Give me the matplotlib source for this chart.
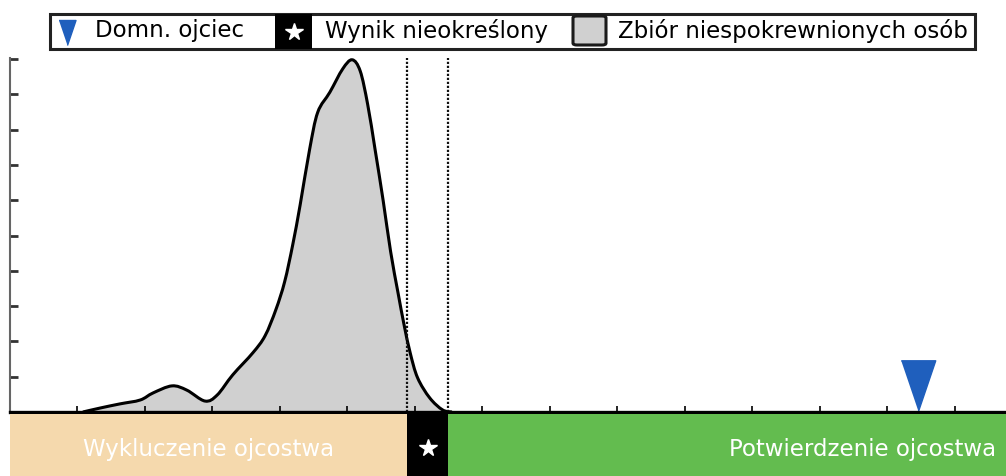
import matplotlib
matplotlib.use("Agg")
import matplotlib.pyplot as plt
from matplotlib.patches import Rectangle, FancyBboxPatch, PathPatch
from matplotlib.lines import Line2D
from matplotlib.path import Path
import numpy as np

# density of unrelated people
score = [1.08, 1.33, 1.63, 1.93, 2.12, 2.40, 2.62, 2.89, 3.07, 3.30, 3.60, 3.78,
         3.94, 4.07, 4.19, 4.30, 4.44, 4.56, 4.74, 4.93, 5.07, 5.19, 5.30, 5.41,
         5.53, 5.64, 5.75, 5.84, 5.93, 6.04, 6.22, 6.41, 6.55]
density = [0.0, 0.11, 0.23, 0.34, 0.54, 0.74, 0.62, 0.31, 0.48, 1.05, 1.68, 2.16,
           2.90, 3.69, 4.74, 5.87, 7.44, 8.49, 9.06, 9.72, 9.98, 9.66, 8.72, 7.44,
           5.99, 4.55, 3.38, 2.47, 1.68, 0.97, 0.40, 0.06, 0.0]
father_x = 13.45
inconclusive = [5.89, 6.49]
x_max = 14.76
y_max = 10.03
labels = ["Domn. ojciec", "Wynik nieokreślony", "Zbiór niespokrewnionych osób"]
zones = ["Wykluczenie ojcostwa", "Potwierdzenie ojcostwa"]

W, H = 1006, 476
blue = "#1f5fbd"
beige = "#f5d9ad"
green = "#63bc4f"
grey = "#d0d0d0"
font = "DejaVu Sans"


def fx(px):
    return px / W


def fy(py):
    return 1 - py / H


def smooth_path(xs, ys, close=False):
    # catmull-rom through the points, drawn as cubic bezier segments
    p = np.column_stack([xs, ys])
    verts = [p[0]]
    codes = [Path.MOVETO]
    for i in range(len(p) - 1):
        p0 = p[i - 1] if i > 0 else p[i]
        p3 = p[i + 2] if i + 2 < len(p) else p[i + 1]
        c1 = p[i] + (p[i + 1] - p0) / 6
        c2 = p[i + 1] - (p3 - p[i]) / 6
        verts += [c1, c2, p[i + 1]]
        codes += [Path.CURVE4] * 3
    if close:
        verts += [p[0], p[0]]
        codes += [Path.LINETO, Path.CLOSEPOLY]
    return Path(verts, codes)


fig = plt.figure(figsize=(W / 100, H / 100), dpi=100)

# main plot
ax = fig.add_axes([fx(10), fy(412), fx(996), 354 / H])
ax.add_patch(PathPatch(smooth_path(score, density, close=True), facecolor=grey,
                       edgecolor="none", zorder=1))
ax.add_patch(PathPatch(smooth_path(score, density), facecolor="none",
                       edgecolor="black", lw=2.2, zorder=2, joinstyle="round"))
for xv in inconclusive:
    ax.axvline(xv, color="#111111", ls=(0, (1, 0.8)), lw=1.6, zorder=3)

tri = [(-0.34, 1.0), (0.34, 1.0), (0.0, 0.0)]
ax.plot([father_x], [0.04], marker=tri, markersize=73, color=blue, ls="none",
        clip_on=False, zorder=4)

ax.set_xlim(0, x_max)
ax.set_ylim(0, y_max)
ax.set_xticks(np.arange(1, 15))
ax.set_yticks(np.arange(1, 11))
ax.set_xticklabels([])
ax.set_yticklabels([])
ax.tick_params(axis="x", direction="in", length=4.5, width=1.2, color="black")
ax.tick_params(axis="y", direction="in", length=6, width=2.0, color="#333333")
ax.spines["top"].set_visible(False)
ax.spines["right"].set_visible(False)
ax.spines["left"].set_color("#666666")
ax.spines["left"].set_linewidth(1.5)
ax.spines["bottom"].set_linewidth(2.4)
ax.spines["bottom"].set_zorder(5)

# bottom band
bx = fig.add_axes([fx(10), 0, fx(996), 62 / H])
bx.set_xlim(0, x_max)
bx.set_ylim(0, 1)
bx.axvspan(0, inconclusive[0], color=beige, lw=0)
bx.axvspan(inconclusive[0], inconclusive[1], color="black", lw=0)
bx.axvspan(inconclusive[1], x_max, color=green, lw=0)
bx.axis("off")
bx.text(inconclusive[0] / 2, 0.42, zones[0], color="white", fontsize=16.5,
        ha="center", va="center", family=font)
bx.text((863 - 10) / 67.5, 0.42, zones[1], color="white", fontsize=16.5,
        ha="center", va="center", family=font)
bx.plot([sum(inconclusive) / 2], [0.45], marker="*", color="white",
        markersize=13, ls="none")

# legend
fig.add_artist(Rectangle((fx(50), fy(49)), fx(925), 35 / H, transform=fig.transFigure,
                         facecolor="white", edgecolor="#222222", lw=2.2))
fig.add_artist(Line2D([fx(67)], [fy(45)], marker=tri, markersize=36,
                      color=blue, transform=fig.transFigure))
fig.add_artist(Rectangle((fx(275), fy(49)), fx(37), 35 / H, transform=fig.transFigure,
                         facecolor="black", edgecolor="none"))
fig.add_artist(Line2D([fx(293.5)], [fy(32)], marker="*", markersize=13, color="white",
                      transform=fig.transFigure))
fig.add_artist(FancyBboxPatch((fx(573), fy(45)), fx(33), 29 / H,
                              boxstyle="round,pad=0,rounding_size=0.004",
                              transform=fig.transFigure, facecolor=grey,
                              edgecolor="#1a1a1a", lw=2.2))
fig.text(fx(95), fy(31), labels[0], fontsize=16.5, va="center", family=font)
fig.text(fx(325), fy(31), labels[1], fontsize=16.5, va="center", family=font)
fig.text(fx(618), fy(31), labels[2], fontsize=16.5, va="center", family=font)

fig.savefig("out.png", dpi=100)
